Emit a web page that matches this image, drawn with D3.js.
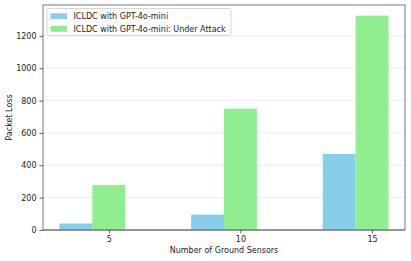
<!DOCTYPE html>
<html>
  <head>
    <script src="https://d3js.org/d3.v7.min.js"></script>
    <style>
      body { margin: 0; background: #fff; font-family: "DejaVu Sans", sans-serif; }
    </style>
  </head>
  <body>
    <svg id="chart" width="411" height="261"></svg>
    <script>
      var sensors = ["5", "10", "15"];
      var normalLoss = [40, 95, 470];
      var attackLoss = [278, 750, 1325];
      var seriesNames = ["ICLDC with GPT-4o-mini", "ICLDC with GPT-4o-mini: Under Attack"];
      var seriesColors = ["#87ceeb", "#90ee90"];
      var yTicks = [0, 200, 400, 600, 800, 1000, 1200];

      var svg = d3.select("#chart");
      var plotLeft = 43, plotRight = 405, plotTop = 5, plotBottom = 230;
      var barW = 0.25;

      var x = d3.scaleLinear().domain([-0.5, 2.25]).range([plotLeft, plotRight]);
      var y = d3.scaleLinear().domain([0, 1391]).range([plotBottom, plotTop]);

      // grid
      svg.append("g")
        .selectAll("line")
        .data(yTicks.slice(1))
        .enter()
        .append("line")
        .attr("x1", plotLeft).attr("x2", plotRight)
        .attr("y1", d => y(d)).attr("y2", d => y(d))
        .attr("stroke", "#b0b0b0")
        .attr("stroke-width", 0.6)
        .attr("stroke-dasharray", "2.5,1.5")
        .attr("opacity", 0.6);

      var series = [normalLoss, attackLoss];
      series.forEach(function (vals, s) {
        svg.append("g")
          .selectAll("rect")
          .data(vals)
          .enter()
          .append("rect")
          .attr("x", (d, i) => x(i + (s - 1) * barW - barW / 2))
          .attr("width", x(barW) - x(0))
          .attr("y", d => y(d))
          .attr("height", d => y(0) - y(d))
          .attr("fill", seriesColors[s]);
      });

      // frame
      svg.append("rect")
        .attr("x", plotLeft).attr("y", plotTop)
        .attr("width", plotRight - plotLeft).attr("height", plotBottom - plotTop)
        .attr("fill", "none")
        .attr("stroke", "#555")
        .attr("stroke-width", 0.8);
      svg.append("line")
        .attr("x1", plotLeft).attr("x2", plotRight)
        .attr("y1", plotBottom).attr("y2", plotBottom)
        .attr("stroke", "#888").attr("stroke-width", 1.6);

      svg.append("g")
        .attr("transform", "translate(" + plotLeft + ",0)")
        .call(d3.axisLeft(y).tickValues(yTicks).tickFormat(d3.format("d")).tickSize(3.5).tickPadding(3));
      svg.append("g")
        .attr("transform", "translate(0," + plotBottom + ")")
        .call(d3.axisBottom(x).tickValues([0, 1, 2]).tickFormat((d) => sensors[d]).tickSize(3.5).tickPadding(3));
      svg.selectAll(".domain").remove();
      svg.selectAll(".tick line").attr("stroke", "#333").attr("stroke-width", 0.8);
      svg.selectAll(".tick text")
        .style("font-family", "DejaVu Sans")
        .style("font-size", "8px")
        .attr("fill", "#222");

      svg.append("text")
        .attr("transform", "rotate(-90)")
        .attr("x", -(plotTop + plotBottom) / 2)
        .attr("y", 12)
        .attr("text-anchor", "middle")
        .style("font-size", "8px")
        .attr("fill", "#222")
        .text("Packet Loss");

      svg.append("text")
        .attr("x", (plotLeft + plotRight) / 2)
        .attr("y", 253)
        .attr("text-anchor", "middle")
        .style("font-size", "8px")
        .attr("fill", "#222")
        .text("Number of Ground Sensors");

      // legend
      var legend = svg.append("g");
      legend.append("rect")
        .attr("x", 47).attr("y", 8.5)
        .attr("width", 184).attr("height", 27)
        .attr("rx", 2)
        .attr("fill", "#fff").attr("fill-opacity", 0.8)
        .attr("stroke", "#ccc").attr("stroke-width", 0.8);
      seriesNames.forEach(function (name, i) {
        legend.append("rect")
          .attr("x", 50.5).attr("y", 13.3 + i * 12.7)
          .attr("width", 16.5).attr("height", 5.8)
          .attr("fill", seriesColors[i]);
        legend.append("text")
          .attr("x", 73.5).attr("y", 19.3 + i * 12.7)
          .style("font-size", "8px")
          .attr("fill", "#222")
          .text(name);
      });
    </script>
  </body>
</html>
